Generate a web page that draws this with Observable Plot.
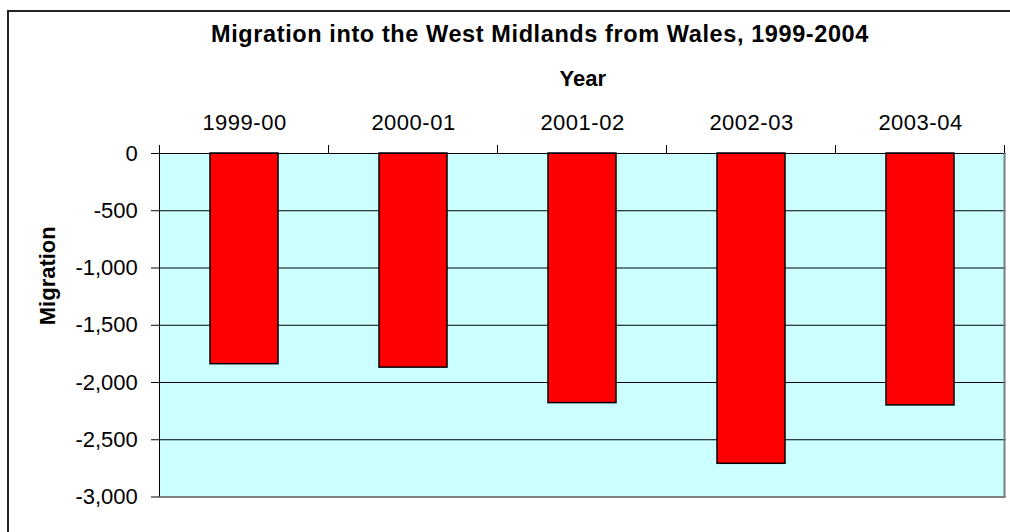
<!DOCTYPE html>
<html><head><meta charset="utf-8">
<script src="https://cdn.jsdelivr.net/npm/d3@7"></script>
<script src="https://cdn.jsdelivr.net/npm/@observablehq/plot@0.6"></script>
<style>
html,body{margin:0;background:#fff;overflow:hidden}
#wrap{position:relative;width:1010px;height:532px;overflow:hidden;background:#fff;font-family:"Liberation Sans",Arial,sans-serif}
#title{position:absolute;left:0;width:1080px;top:20px;text-align:center;font-weight:bold;font-size:23.5px;letter-spacing:0.6px;line-height:28px;color:#000;white-space:nowrap}
#chart{position:absolute;left:0;top:0;width:1010px;height:532px}
</style>
</head><body>
<div id="wrap">
  <div id="chart"></div>
  <div id="title">Migration into the West Midlands from Wales, 1999-2004</div>
</div>
<script>
const years = ["1999-00", "2000-01", "2001-02", "2002-03", "2003-04"];
const migration = [-1840, -1870, -2180, -2710, -2200];
const yTicks = [0, -500, -1000, -1500, -2000, -2500, -3000];
const xLabel = "Year";
const yLabel = "Migration";

const data = years.map((y, i) => ({year: y, value: migration[i]}));
const fmt = d => d.toLocaleString("en-US");

const plot = Plot.plot({
  width: 1010,
  height: 532,
  marginTop: 153,
  marginLeft: 159,
  marginRight: 4.5,
  marginBottom: 35.5,
  style: {fontFamily: '"Liberation Sans", Arial, sans-serif', fontSize: "22px", color: "#000", background: "transparent"},
  x: {domain: years, paddingInner: 0.6, paddingOuter: 0.3, axis: null},
  y: {domain: [-3000, 0]},
  marks: [
    Plot.frame({fill: "#CCFFFF", stroke: null}),
    Plot.ruleY(yTicks, {stroke: "#000", strokeWidth: 1}),
    Plot.barY(data, {x: "year", y: "value", fill: "#FF0000", stroke: "#000", strokeWidth: 1.5}),
    Plot.ruleY([yTicks[yTicks.length - 1]], {stroke: "#808080", strokeWidth: 2}),
    Plot.ruleY([0], {stroke: "#000", strokeWidth: 1}),
    Plot.axisY(yTicks, {tickSize: 8, tickPadding: 13.7, tickFormat: fmt, label: null, stroke: "#000", fill: "#000"}),
    Plot.text(years, {x: d => d, frameAnchor: "top", dy: -31, lineAnchor: "middle", fill: "#000"}),
    Plot.text([xLabel], {frameAnchor: "top", dy: -75, lineAnchor: "middle", fontWeight: "bold", fill: "#000"}),
    Plot.text([yLabel], {frameAnchor: "left", dx: -112, rotate: -90, lineAnchor: "middle", fontWeight: "bold", fill: "#000"})
  ]
});

// Category boundary ticks, axis line and right border from the library's scales
const xs = plot.scale("x"), ys = plot.scale("y");
const gap = (xs.step - xs.bandwidth) / 2;
const y0 = ys.apply(0), yB = ys.apply(yTicks[yTicks.length - 1]);
const bounds = years.map(d => xs.apply(d) - gap);
const xRight = xs.apply(years[years.length - 1]) + xs.bandwidth + gap;
bounds.push(xRight);
const svg = d3.select(plot);
const g = svg.append("g");
// chart-area outline (only left and top edges fall inside the picture)
g.append("path").attr("d", "M8,600V11H1100").attr("fill", "none").attr("stroke", "#222").attr("stroke-width", 2);
g.append("line").attr("x1", xRight).attr("x2", xRight).attr("y1", y0).attr("y2", yB + 1).attr("stroke", "#808080").attr("stroke-width", 2);
g.append("line").attr("x1", bounds[0]).attr("x2", bounds[0]).attr("y1", y0 - 8).attr("y2", yB).attr("stroke", "#000");
g.selectAll("line.t").data(bounds).join("line").attr("class", "t")
  .attr("x1", d => d).attr("x2", d => d).attr("y1", y0 - 8).attr("y2", y0).attr("stroke", "#000");
svg.selectAll("text").filter(function() { return years.includes(this.textContent); }).style("letter-spacing", "0.5px");

document.getElementById("chart").appendChild(plot);
</script>
</body></html>
